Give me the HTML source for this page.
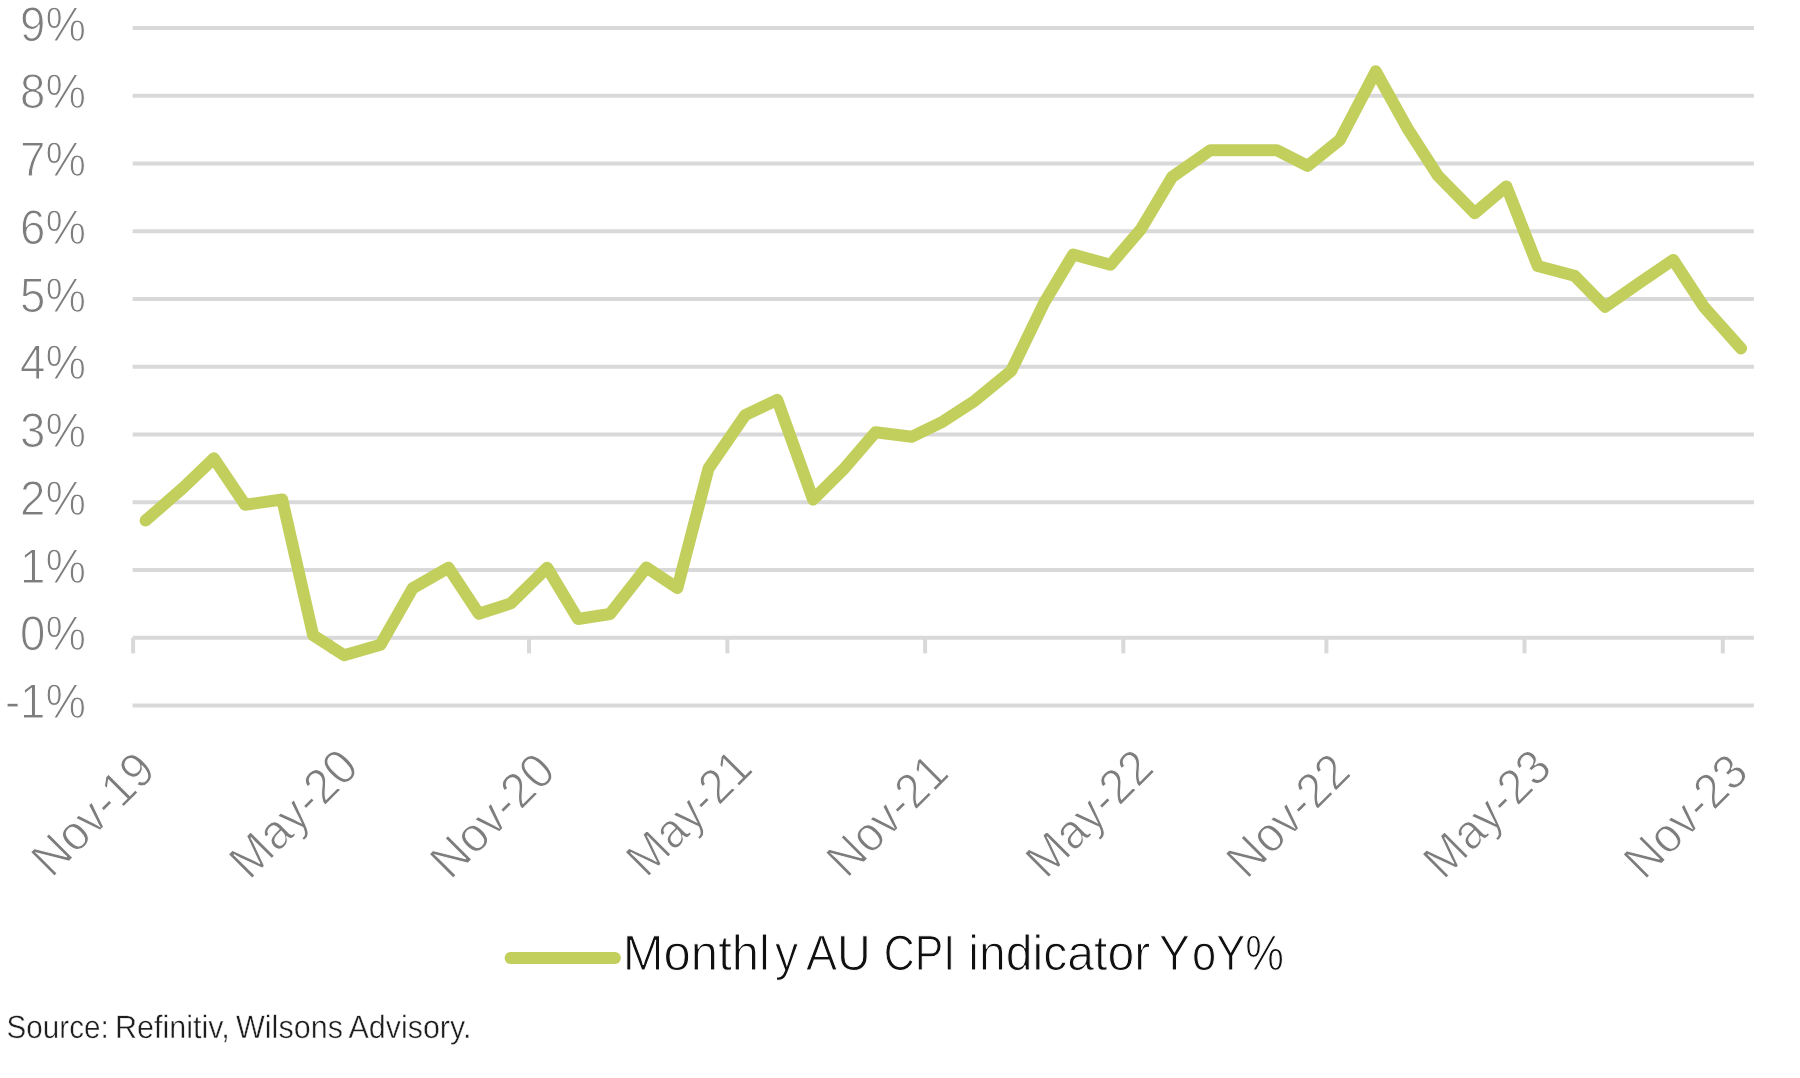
<!DOCTYPE html>
<html><head><meta charset="utf-8"><title>Monthly AU CPI indicator YoY%</title>
<style>
html,body{margin:0;padding:0;background:#fff;}
body{width:1800px;height:1078px;overflow:hidden;font-family:"Liberation Sans",sans-serif;}
svg{display:block;will-change:transform;}
text{font-family:"Liberation Sans",sans-serif;text-rendering:geometricPrecision;}
</style></head><body>
<svg width="1800" height="1078" viewBox="0 0 1800 1078">
<rect width="1800" height="1078" fill="#ffffff"/>

<g stroke="#d9d9d9" stroke-width="4" fill="none">
<line x1="132.6" y1="27.93" x2="1753.9" y2="27.93"/>
<line x1="132.6" y1="95.68" x2="1753.9" y2="95.68"/>
<line x1="132.6" y1="163.44" x2="1753.9" y2="163.44"/>
<line x1="132.6" y1="231.19" x2="1753.9" y2="231.19"/>
<line x1="132.6" y1="298.95" x2="1753.9" y2="298.95"/>
<line x1="132.6" y1="366.70" x2="1753.9" y2="366.70"/>
<line x1="132.6" y1="434.46" x2="1753.9" y2="434.46"/>
<line x1="132.6" y1="502.21" x2="1753.9" y2="502.21"/>
<line x1="132.6" y1="569.97" x2="1753.9" y2="569.97"/>
<line x1="132.6" y1="637.72" x2="1753.9" y2="637.72"/>
<line x1="132.6" y1="705.48" x2="1753.9" y2="705.48"/>
<line x1="133.1" y1="637.72" x2="133.1" y2="653.40"/>
<line x1="331.0" y1="637.72" x2="331.0" y2="653.40"/>
<line x1="529.0" y1="637.72" x2="529.0" y2="653.40"/>
<line x1="727.4" y1="637.72" x2="727.4" y2="653.40"/>
<line x1="925.1" y1="637.72" x2="925.1" y2="653.40"/>
<line x1="1123.3" y1="637.72" x2="1123.3" y2="653.40"/>
<line x1="1326.4" y1="637.72" x2="1326.4" y2="653.40"/>
<line x1="1524.5" y1="637.72" x2="1524.5" y2="653.40"/>
<line x1="1722.8" y1="637.72" x2="1722.8" y2="653.40"/>
</g>
<g fill="#7d7d7d" font-size="48.8" text-anchor="end" stroke="#ffffff" stroke-width="1.05">
<text transform="translate(86,40.6) scale(0.934,1)">9%</text>
<text transform="translate(86,108.4) scale(0.934,1)">8%</text>
<text transform="translate(86,176.1) scale(0.934,1)">7%</text>
<text transform="translate(86,243.9) scale(0.934,1)">6%</text>
<text transform="translate(86,311.6) scale(0.934,1)">5%</text>
<text transform="translate(86,379.4) scale(0.934,1)">4%</text>
<text transform="translate(86,447.2) scale(0.934,1)">3%</text>
<text transform="translate(86,514.9) scale(0.934,1)">2%</text>
<text transform="translate(86,582.7) scale(0.934,1)">1%</text>
<text transform="translate(86,650.4) scale(0.934,1)">0%</text>
<text transform="translate(86,718.2) scale(0.934,1)">-1%</text>
</g>
<polyline fill="none" stroke="#c2cf5c" stroke-width="12" stroke-linejoin="round" stroke-linecap="round" points="145.6,520.6 182.9,488.0 213.9,458.3 245.2,504.8 282.2,499.5 313.1,635.2 344.2,655.3 380.5,644.7 412.7,588.2 448.5,567.7 478.8,613.8 510.8,603.4 547.1,567.7 578.0,619.0 610.0,614.0 646.4,567.5 677.4,588.0 708.5,468.5 745.2,415.2 777.2,399.8 813.1,499.5 843.3,469.6 875.4,432.3 911.6,436.8 942.9,421.6 974.9,400.7 1011.2,370.8 1044.3,302.5 1073.1,254.5 1110.4,264.8 1141.2,228.8 1172.1,177.0 1210.5,150.2 1243.5,150.2 1276.7,150.2 1307.6,165.9 1339.8,140.0 1375.8,71.3 1407.2,127.9 1438.1,175.9 1474.8,213.2 1506.4,186.4 1537.7,266.0 1574.5,275.8 1605.0,306.8 1638.7,283.3 1673.2,259.9 1703.8,306.8 1741.1,348.4"/>
<g fill="#7d7d7d" font-size="49.2" text-anchor="end" stroke="#ffffff" stroke-width="1.05">
<text transform="translate(157.80,772.65) rotate(-45) scale(0.9464,1)">Nov-19</text>
<text transform="translate(360.80,769.65) rotate(-45) scale(0.9603,1)">May-20</text>
<text transform="translate(557.80,773.65) rotate(-45) scale(0.9562,1)">Nov-20</text>
<text transform="translate(754.80,770.40) rotate(-45) scale(0.9340,1)">May-21</text>
<text transform="translate(951.05,775.15) rotate(-45) scale(0.9291,1)">Nov-21</text>
<text transform="translate(1156.05,770.15) rotate(-45) scale(0.9481,1)">May-22</text>
<text transform="translate(1352.80,774.15) rotate(-45) scale(0.9461,1)">Nov-22</text>
<text transform="translate(1554.05,770.15) rotate(-45) scale(0.9530,1)">May-23</text>
<text transform="translate(1750.55,774.65) rotate(-45) scale(0.9487,1)">Nov-23</text>
</g>
<line x1="510.5" y1="958" x2="615" y2="958" stroke="#c2cf5c" stroke-width="11.8" stroke-linecap="round"/>
<g font-size="49.7" fill="#101010" stroke="#ffffff" stroke-width="1.05">
<text transform="translate(622.75,969.60) scale(0.9868,1)">Monthl</text>
<text transform="translate(774.97,969.60) scale(0.9330,1)">y</text>
<text transform="translate(805.99,969.60) scale(0.9380,1)">AU</text>
<text transform="translate(883.72,969.60) scale(0.8627,1)">CPI</text>
<text transform="translate(968.32,969.60) scale(0.9686,1)">indicator</text>
<text transform="translate(1158.99,969.60) scale(0.9308,1)">Y</text>
<text transform="translate(1192.11,969.60) scale(0.8752,1)">oY%</text>
</g>
<g font-size="32.3" fill="#1e1e1e" stroke="#ffffff" stroke-width="0.45">
<text transform="translate(6.57,1037.90) scale(0.9171,1)">Source:</text>
<text transform="translate(115.01,1037.90) scale(0.9457,1)">Refinitiv,</text>
<text transform="translate(236.00,1037.90) scale(0.9456,1)">Wilsons</text>
<text transform="translate(348.50,1037.90) scale(0.9421,1)">Advisory.</text>
</g>
</svg></body></html>
